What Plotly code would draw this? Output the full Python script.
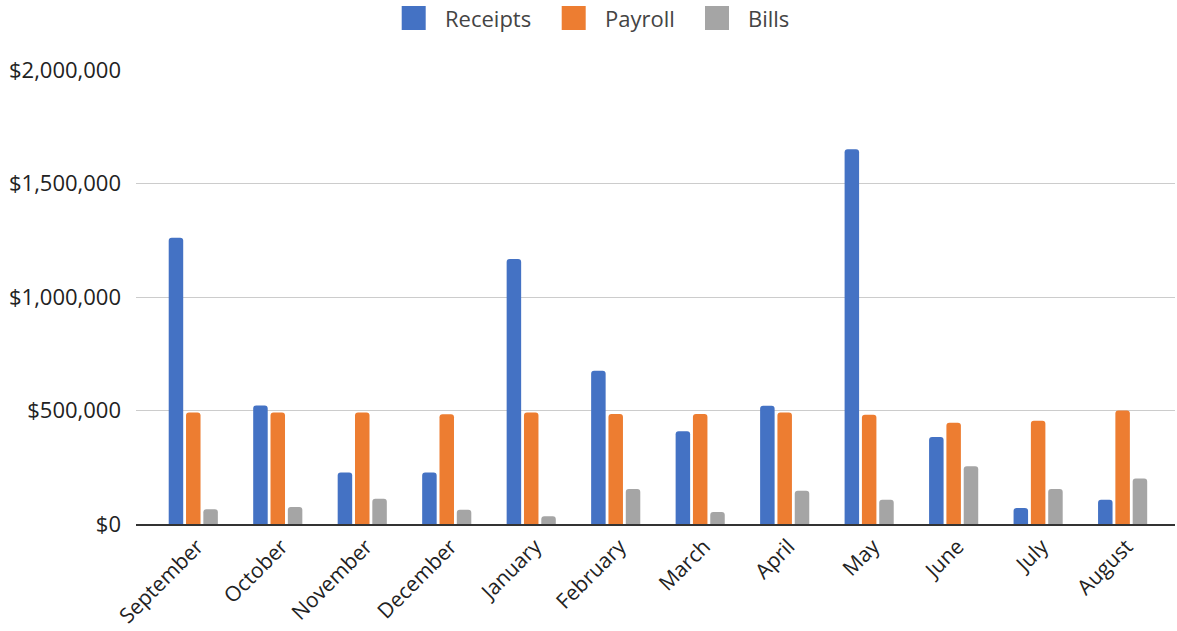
import plotly.graph_objects as go

# Monthly cash flow figures (USD)
months = ["September", "October", "November", "December", "January", "February",
          "March", "April", "May", "June", "July", "August"]
receipts = [1261000, 522000, 227000, 227000, 1167000, 675000,
            409000, 521000, 1651000, 383000, 70000, 107000]
payroll = [491000, 491000, 491000, 484000, 491000, 485000,
           485000, 491000, 481000, 446000, 455000, 500000]
bills = [65000, 75000, 111000, 63000, 34000, 154000,
         53000, 146000, 107000, 254000, 154000, 200000]

series_names = ["Receipts", "Payroll", "Bills"]
series_colors = ["#4472C4", "#ED7D31", "#A5A5A5"]
y_ticks = [0, 500000, 1000000, 1500000, 2000000]
y_tick_labels = ["${:,}".format(v) for v in y_ticks]

W, H = 1177, 631
L, R, T, B = 136, 2, 70, 107
plot_w = W - L - R
plot_h = H - T - B

font_family = "Open Sans, Noto Sans, sans-serif"
text_color = "#444444"
tick_size = 22

fig = go.Figure()
for name, vals, color in zip(series_names, [receipts, payroll, bills], series_colors):
    fig.add_trace(go.Bar(
        x=months, y=vals, name=name,
        marker=dict(color=color, cornerradius=3, line=dict(width=0)),
        showlegend=False,
    ))


def px_x(p):
    return (p - L) / plot_w


def px_y(p):
    return (H - B - p) / plot_h


# Legend drawn as swatches + labels across the top
legend_items = [(401.7, 443.0), (561.7, 603.0), (705.0, 746.0)]
shapes = []
annotations = []
for (sx, tx), name, color in zip(legend_items, series_names, series_colors):
    shapes.append(dict(
        type="rect", xref="paper", yref="paper",
        x0=px_x(sx), x1=px_x(sx + 24), y0=px_y(30), y1=px_y(6),
        fillcolor=color, line=dict(width=0), layer="above",
    ))
    annotations.append(dict(
        text=name, xref="paper", yref="paper", x=px_x(tx), y=px_y(18),
        xanchor="left", yanchor="middle", showarrow=False,
        font=dict(family=font_family, size=tick_size, color=text_color),
    ))

fig.update_layout(
    width=W, height=H,
    margin=dict(l=L, r=R, t=T, b=B, pad=0),
    paper_bgcolor="white", plot_bgcolor="white",
    barmode="group", bargap=0.385, bargroupgap=0.163,
    font=dict(family=font_family, size=tick_size, color=text_color),
    shapes=shapes, annotations=annotations,
    showlegend=False,
    xaxis=dict(
        type="category", range=[-0.678, 11.62], automargin=False,
        tickangle=-45, showgrid=False, ticklabelshift=4,
        showline=True, linecolor="#333333", linewidth=2,
        ticks="", tickfont=dict(size=21, color="#222222"),
    ),
    yaxis=dict(
        range=[0, 2000000], tickvals=y_ticks, ticktext=y_tick_labels,
        automargin=False,
        showgrid=True, gridcolor="#cccccc", gridwidth=1.3,
        zeroline=False, showline=False, ticks="",
        ticklabelstandoff=14,
        tickfont=dict(size=tick_size, color="#222222"),
    ),
)

fig.write_html("out.html")
